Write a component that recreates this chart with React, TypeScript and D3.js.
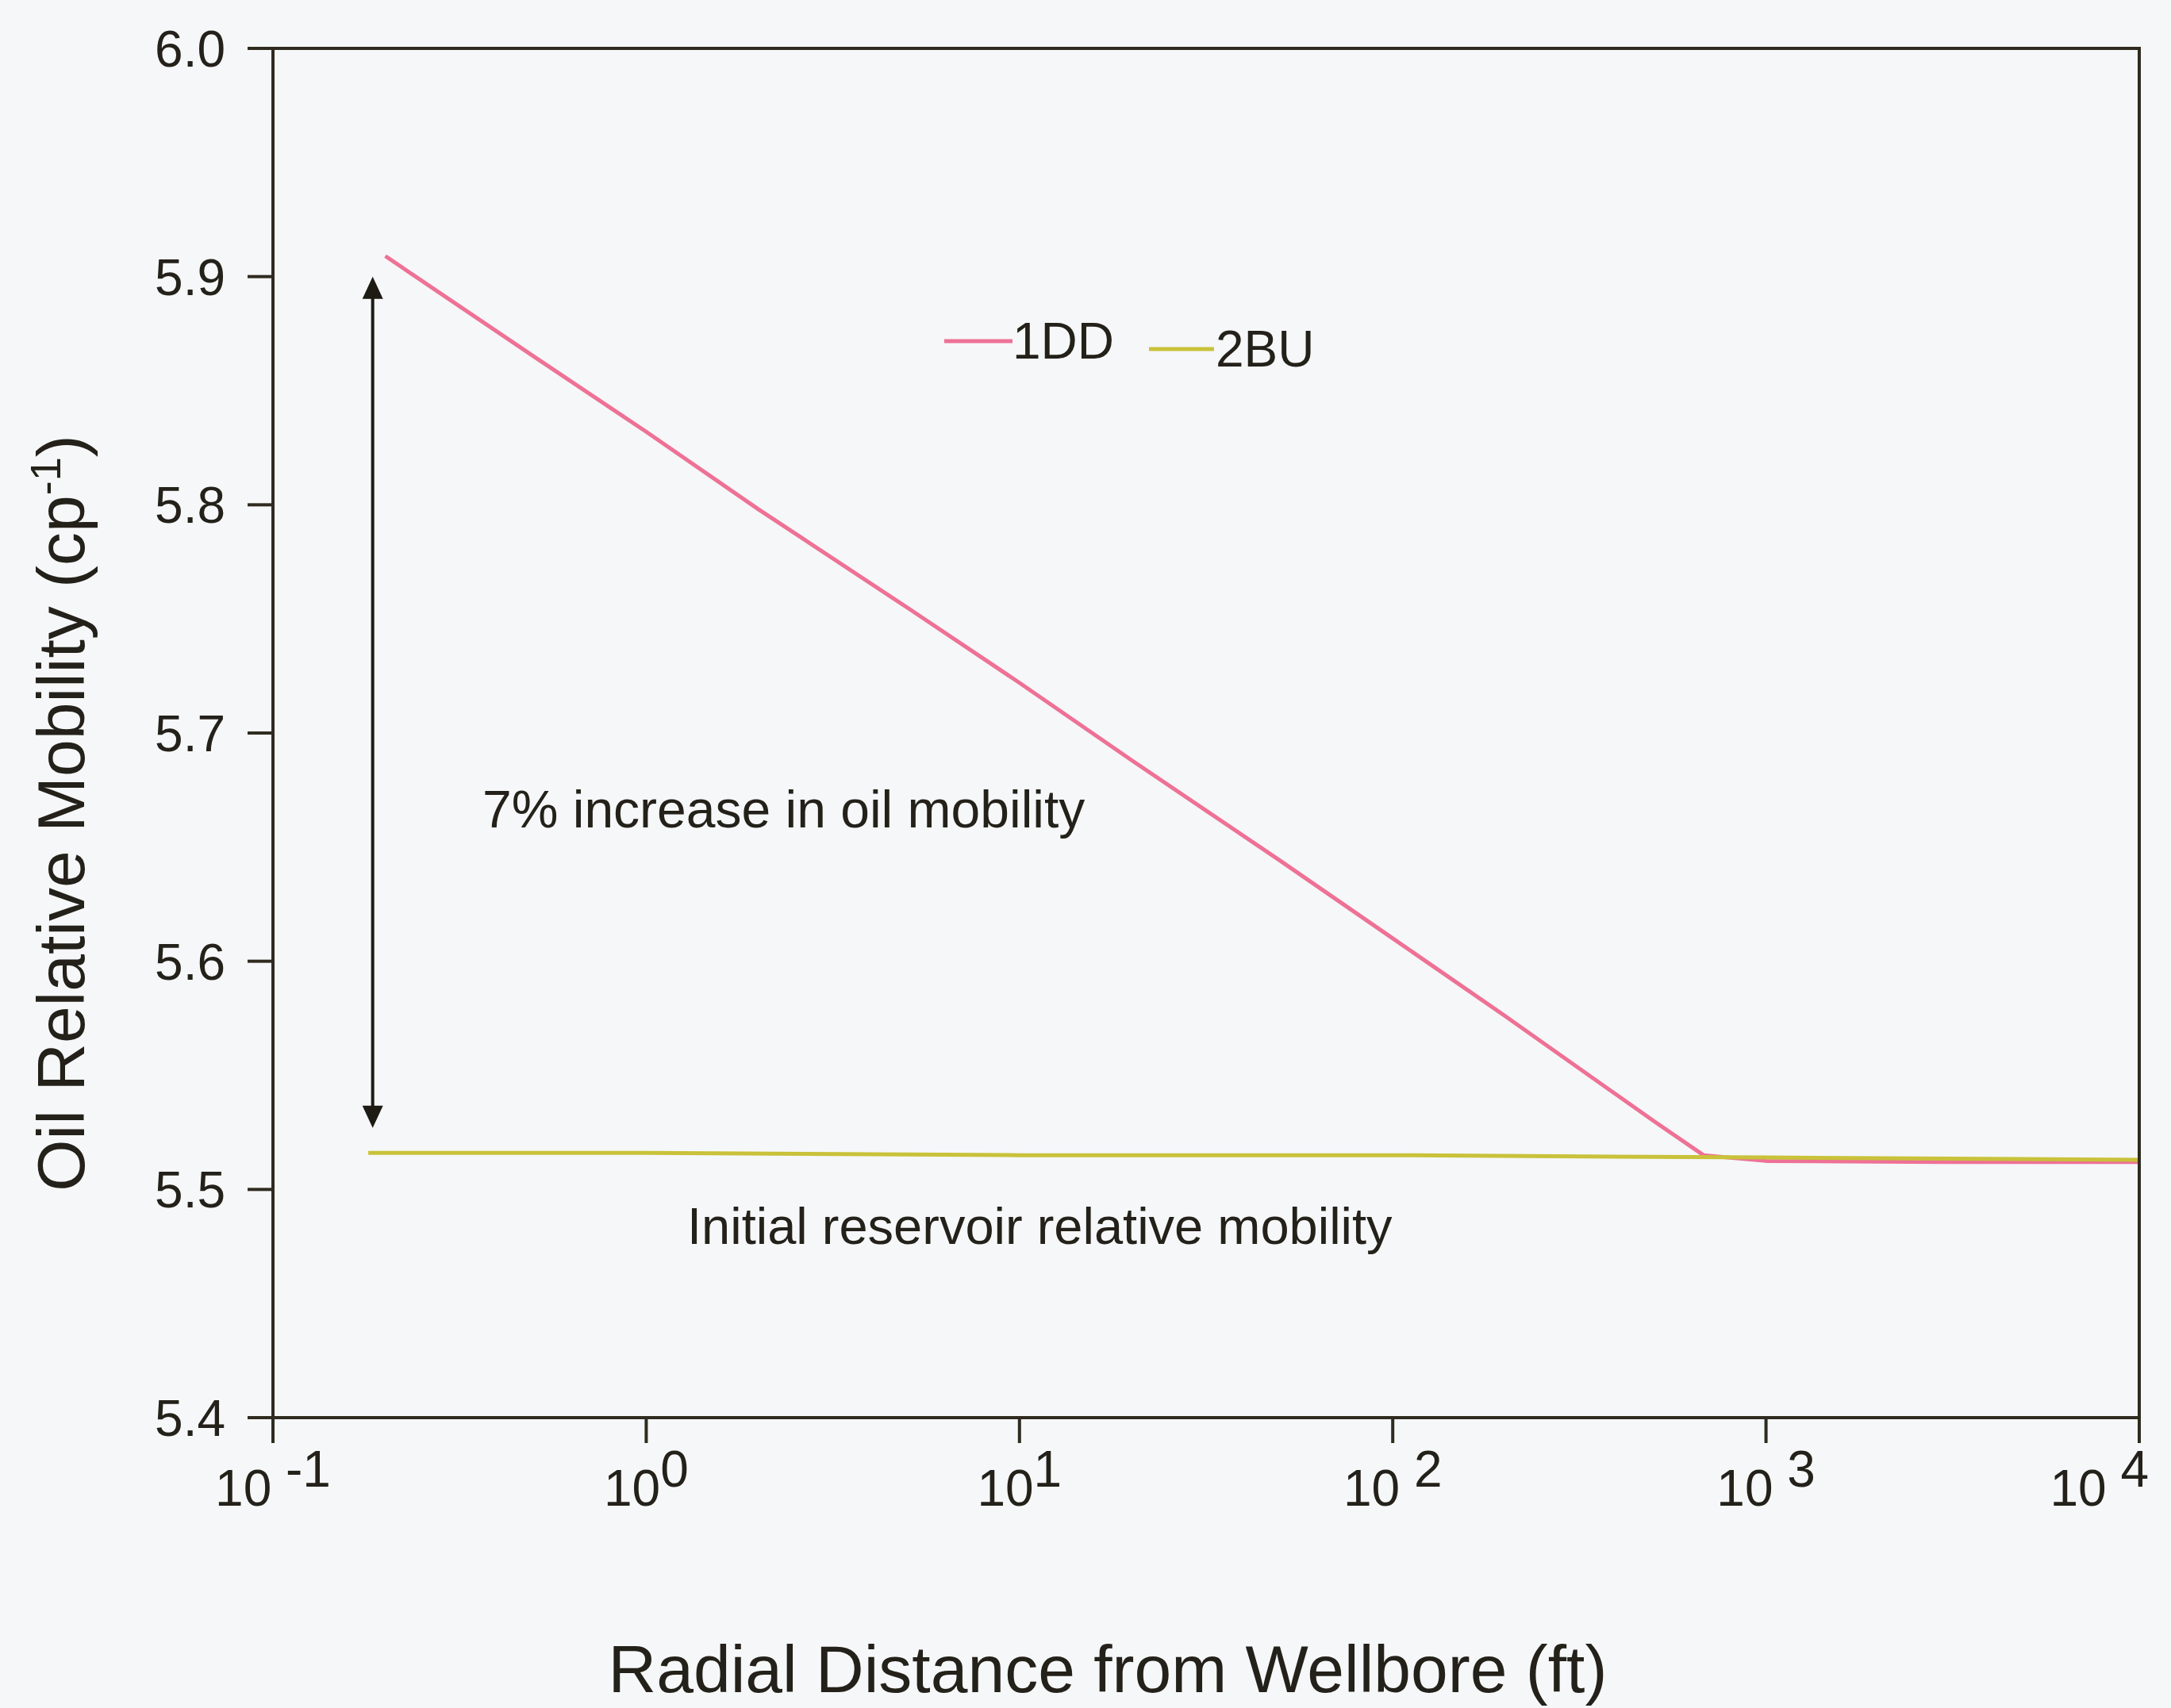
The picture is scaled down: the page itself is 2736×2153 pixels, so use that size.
import React from "react";
import * as d3 from "d3";

// ---- data ----
const series1DD_x = [0.2, 0.5, 1, 2, 5, 10, 20, 50, 100, 200, 500, 680, 1000, 3000, 10000];
const series1DD_y = [5.909, 5.865, 5.832, 5.798, 5.755, 5.722, 5.688, 5.644, 5.610, 5.576, 5.530, 5.515, 5.5125, 5.512, 5.512];
const series2BU_x = [0.18, 1, 10, 100, 1000, 10000];
const series2BU_y = [5.516, 5.516, 5.515, 5.515, 5.514, 5.513];
const seriesNames = ["1DD", "2BU"];
const xTickValues = [0.1, 1, 10, 100, 1000, 10000];
const xTickBases = ["10 ", "10", "10", "10 ", "10 ", "10 "];
const xTickExps = ["-1", "0", "1", "2", "3", "4"];
const yTickValues = [5.4, 5.5, 5.6, 5.7, 5.8, 5.9, 6.0];
const arrowX = 0.185;
const arrowRange = [5.9, 5.527];
const noteIncrease = "7% increase in oil mobility";
const noteInitial = "Initial reservoir relative mobility";
const xTitle = "Radial Distance from Wellbore (ft)";

const W = 2736;
const H = 2153;
const FONT = "'Liberation Sans', Arial, Helvetica, sans-serif";
const INK = "#24211a";
const AXIS = "#2f2b1f";
const PINK = "#ee7196";
const YELLOW = "#c9c23a";

export default function App() {
  const x = d3.scaleLog().domain([0.1, 10000]).range([344, 2696]);
  const y = d3.scaleLinear().domain([5.4, 6.0]).range([1787, 61]);
  const line = d3
    .line<[number, number]>()
    .x((d) => x(d[0]))
    .y((d) => y(d[1]));
  const d1 = line(series1DD_x.map((v, i) => [v, series1DD_y[i]] as [number, number])) || "";
  const d2 = line(series2BU_x.map((v, i) => [v, series2BU_y[i]] as [number, number])) || "";

  const [x0, x1] = x.range();
  const [yb, yt] = y.range();
  const tickLen = 32;
  const ax = x(arrowX);
  const aTop = y(arrowRange[0]);
  const aBot = y(arrowRange[1]);
  const ah = 28;
  const aw = 13;
  const lastTick = xTickValues.length - 1;

  return (
    <svg
      width={W}
      height={H}
      viewBox={`0 0 ${W} ${H}`}
      style={{ position: "absolute", left: 0, top: 0, display: "block" }}
      fontFamily={FONT}
    >
      <rect x={0} y={0} width={W} height={H} fill="#f5f7f8" />

      {/* data lines */}
      <path d={d1} fill="none" stroke={PINK} strokeWidth={5} strokeLinejoin="round" />
      <path d={d2} fill="none" stroke={YELLOW} strokeWidth={5} />

      {/* frame */}
      <rect x={x0} y={yt} width={x1 - x0} height={yb - yt} fill="none" stroke={AXIS} strokeWidth={4} />

      {/* x ticks */}
      {xTickValues.map((v, i) => (
        <g key={"xt" + i}>
          <line x1={x(v)} x2={x(v)} y1={yb} y2={yb + tickLen} stroke={AXIS} strokeWidth={4} />
          <text
            x={i === lastTick ? x(v) + 12 : x(v)}
            y={1898}
            textAnchor={i === lastTick ? "end" : "middle"}
            fontSize={64}
            fill={INK}
          >
            {xTickBases[i]}
            <tspan dy={-24}>{xTickExps[i]}</tspan>
          </text>
        </g>
      ))}

      {/* y ticks */}
      {yTickValues.map((v, i) => (
        <g key={"yt" + i}>
          <line x1={x0 - tickLen} x2={x0} y1={y(v)} y2={y(v)} stroke={AXIS} strokeWidth={4} />
          <text x={284} y={y(v)} dy="0.36em" textAnchor="end" fontSize={64} fill={INK}>
            {d3.format(".1f")(v)}
          </text>
        </g>
      ))}

      {/* axis titles */}
      <text x={1396} y={2133} textAnchor="middle" fontSize={84} fill={INK}>
        {xTitle}
      </text>
      <text
        transform={`translate(106,1025) rotate(-90)`}
        textAnchor="middle"
        fontSize={84}
        fill={INK}
      >
        Oil Relative Mobility (cp
        <tspan fontSize={54} dy={-30}>-1</tspan>
        <tspan dy={30}>)</tspan>
      </text>

      {/* legend */}
      <line x1={1190} x2={1276} y1={430} y2={430} stroke={PINK} strokeWidth={5} />
      <text x={1276} y={452} fontSize={64} fill={INK}>{seriesNames[0]}</text>
      <line x1={1448} x2={1530} y1={440} y2={440} stroke={YELLOW} strokeWidth={5} />
      <text x={1532} y={462} fontSize={64} fill={INK}>{seriesNames[1]}</text>

      {/* double arrow */}
      <line x1={ax} x2={ax} y1={aTop + ah - 2} y2={aBot - ah + 2} stroke="#1e1b14" strokeWidth={4} />
      <path d={`M${ax},${aTop} L${ax - aw},${aTop + ah} L${ax + aw},${aTop + ah} Z`} fill="#1e1b14" />
      <path d={`M${ax},${aBot} L${ax - aw},${aBot - ah} L${ax + aw},${aBot - ah} Z`} fill="#1e1b14" />

      {/* annotations */}
      <text x={608} y={1043} fontSize={66} fill={INK}>{noteIncrease}</text>
      <text x={866} y={1568} fontSize={65} fill={INK}>{noteInitial}</text>
    </svg>
  );
}
